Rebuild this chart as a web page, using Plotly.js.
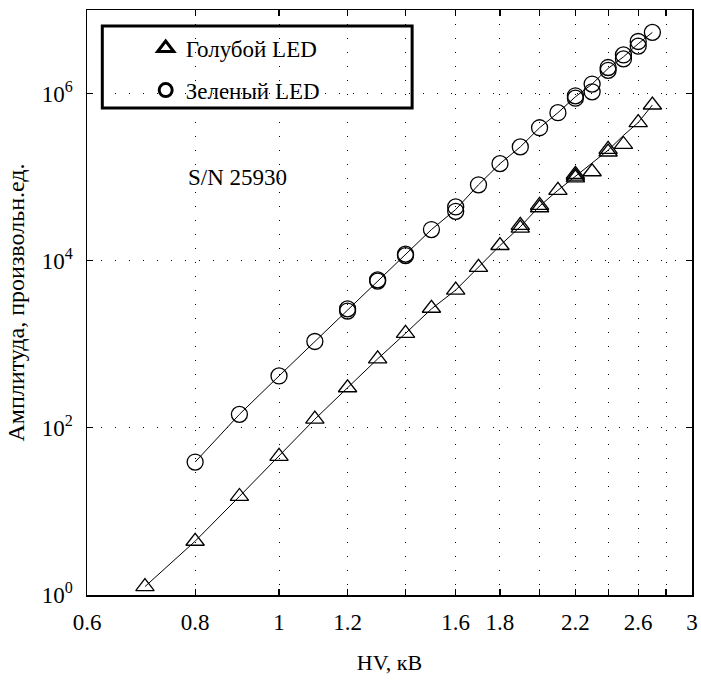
<!DOCTYPE html>
<html>
<head>
<meta charset="utf-8">
<script src="https://cdn.plot.ly/plotly-3.0.1.min.js"></script>
<style>html,body{margin:0;padding:0;background:#fff;}#chart{width:701px;height:680px;}</style>
</head>
<body>
<div id="chart"></div>
<script>
// Blue LED (triangles): measured points
const blueX = [0.7, 0.8, 0.9, 1.0, 1.1, 1.2, 1.3, 1.4, 1.5, 1.6, 1.7, 1.8, 1.9, 1.9, 2.0, 2.0, 2.1, 2.2, 2.2, 2.2, 2.3, 2.4, 2.4, 2.5, 2.6, 2.7];
const blueY = [1.26, 4.4, 15.1, 45.7, 127, 302, 668, 1350, 2700, 4450, 8330, 15200, 24500, 26500, 43000, 46000, 69600, 98000, 103000, 108000, 116000, 200000, 215000, 246000, 450000, 730000];
// Blue LED fit line
const blueFitX = [0.7, 0.8, 0.9, 1.0, 1.1, 1.2, 1.3, 1.4, 1.5, 1.6, 1.7, 1.8, 1.9, 2.0, 2.1, 2.2, 2.3, 2.4, 2.5, 2.6, 2.7];
const blueFitY = [1.26, 4.4, 15.1, 45.7, 127, 302, 668, 1350, 2650, 4450, 8330, 15200, 25500, 45000, 69600, 103000, 148000, 210000, 316000, 450000, 730000];
// Green LED (circles): measured points
const greenX = [0.8, 0.9, 1.0, 1.1, 1.2, 1.2, 1.3, 1.3, 1.4, 1.4, 1.5, 1.6, 1.6, 1.7, 1.8, 1.9, 2.0, 2.1, 2.2, 2.2, 2.3, 2.3, 2.4, 2.4, 2.5, 2.5, 2.6, 2.6, 2.7];
const greenY = [39, 145, 418, 1080, 2500, 2650, 5700, 5900, 11500, 12000, 23600, 39000, 44000, 81000, 145000, 230000, 390000, 590000, 880000, 940000, 1.05e6, 1.3e6, 1.9e6, 2.05e6, 2.6e6, 2.9e6, 3.7e6, 4.2e6, 5.4e6];
// Green LED fit line
const greenFitX = [0.8, 0.9, 1.0, 1.1, 1.2, 1.3, 1.4, 1.5, 1.6, 1.7, 1.8, 1.9, 2.0, 2.1, 2.2, 2.3, 2.4, 2.5, 2.6, 2.7];
const greenFitY = [39, 145, 418, 1080, 2580, 5800, 11800, 23600, 41000, 81000, 145000, 230000, 390000, 590000, 915000, 1.3e6, 2.0e6, 2.75e6, 3.95e6, 5.4e6];

const xTickVals = [0.6, 0.8, 1.0, 1.2, 1.4, 1.6, 1.8, 2.0, 2.2, 2.4, 2.6, 2.8, 3.0];
const xTickText = ['0.6', '0.8', '1', '1.2', '', '1.6', '1.8', '', '2.2', '', '2.6', '', '3'];
const yTickVals = [1, 100, 10000, 1000000];
const yTickText = ['10<sup>0</sup>', '10<sup>2</sup>', '10<sup>4</sup>', '10<sup>6</sup>'];

const legendNames = ['Голубой LED', 'Зеленый LED'];
const annotText = 'S/N 25930';
const xTitle = 'HV, кВ';
const yTitle = 'Амплитуда, произвольн.ед.';

const FONT = "'Liberation Serif', 'Times New Roman', serif";

const traces = [
  {x: blueFitX, y: blueFitY, mode: 'lines', line: {color: '#000', width: 1}, showlegend: false, hoverinfo: 'skip'},
  {x: greenFitX, y: greenFitY, mode: 'lines', line: {color: '#000', width: 1}, showlegend: false, hoverinfo: 'skip'},
  {x: blueX, y: blueY, mode: 'markers', showlegend: false,
   marker: {symbol: 'triangle-up-open', size: 16, color: '#000', line: {color: '#000', width: 1.3}}},
  {x: greenX, y: greenY, mode: 'markers', showlegend: false,
   marker: {symbol: 'circle-open', size: 16, color: '#000', line: {color: '#000', width: 1.3}}},
  {x: [null], y: [null], mode: 'markers', name: legendNames[0], legend: 'legend',
   marker: {symbol: 'triangle-up-open', size: 14, color: '#000', line: {color: '#000', width: 3}}},
  {x: [null], y: [null], mode: 'markers', name: legendNames[1], legend: 'legend2',
   marker: {symbol: 'circle-open', size: 13, color: '#000', line: {color: '#000', width: 3}}}
];

const axisCommon = {
  showline: true, linecolor: '#000', linewidth: 1.5, mirror: 'ticks',
  ticks: 'inside', ticklen: 6, tickwidth: 1.2, tickcolor: '#000',
  showgrid: true, gridcolor: '#000', gridwidth: 1, griddash: '1px,13px',
  zeroline: false,
  tickfont: {family: FONT, size: 23, color: '#000'}
};

const layout = {
  width: 701, height: 680,
  margin: {l: 87, r: 9, t: 10, b: 85},
  paper_bgcolor: '#fff', plot_bgcolor: '#fff',
  font: {family: FONT, color: '#000'},
  xaxis: Object.assign({}, axisCommon, {
    type: 'log', range: [Math.log10(0.6), Math.log10(3)],
    tickmode: 'array', tickvals: xTickVals, ticktext: xTickText,
    ticklabelstandoff: 6,
    title: {text: xTitle, font: {family: FONT, size: 22, color: '#000'}, standoff: 20}
  }),
  yaxis: Object.assign({}, axisCommon, {
    type: 'log', range: [0, 7],
    tickmode: 'array', tickvals: yTickVals, ticktext: yTickText,
    ticklabelstandoff: 8,
    title: {text: yTitle, font: {family: FONT, size: 24, color: '#000'}, standoff: 10}
  }),
  legend: {x: 0.097, y: 0.935, xanchor: 'left', yanchor: 'middle', bgcolor: 'rgba(0,0,0,0)', borderwidth: 0,
           font: {family: FONT, size: 23, color: '#000'}},
  legend2: {x: 0.097, y: 0.863, xanchor: 'left', yanchor: 'middle', bgcolor: 'rgba(0,0,0,0)', borderwidth: 0,
           font: {family: FONT, size: 23, color: '#000'}},
  shapes: [
    {type: 'rect', xref: 'paper', yref: 'paper', x0: 0.0253, x1: 0.5374, y0: 0.8325, y1: 0.9726,
     line: {color: '#000', width: 3}, fillcolor: 'rgba(0,0,0,0)'}
  ],
  annotations: [
    {xref: 'paper', yref: 'paper', x: 0.248, y: 0.713, xanchor: 'center', yanchor: 'middle',
     text: annotText, showarrow: false,
     font: {family: FONT, size: 23, color: '#000'}}
  ]
};

Plotly.newPlot('chart', traces, layout, {staticPlot: true, displayModeBar: false});
</script>
</body>
</html>
